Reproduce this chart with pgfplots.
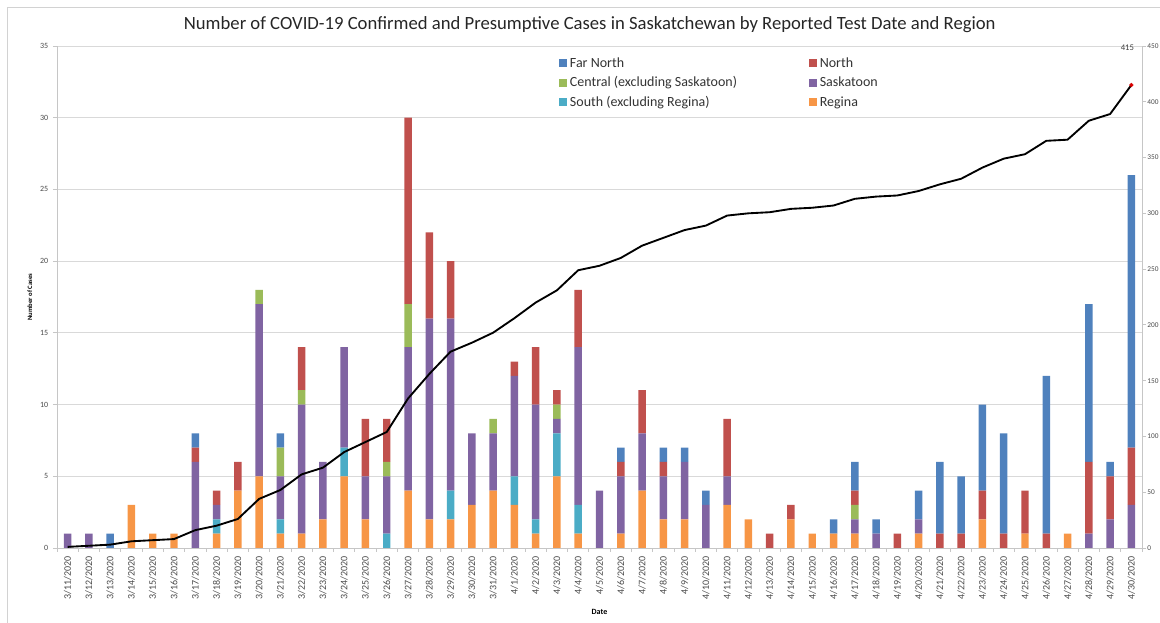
\documentclass[border=0pt]{standalone}
\usepackage{pgfplots}
\pgfplotsset{compat=1.18}
\usepackage{pgfplotstable}
\usepackage{fontspec}
\setmainfont{Carlito}

\definecolor{cFar}{HTML}{4F81BD}
\definecolor{cNor}{HTML}{C0504D}
\definecolor{cCen}{HTML}{9BBB59}
\definecolor{cSas}{HTML}{8064A2}
\definecolor{cSou}{HTML}{4BACC6}
\definecolor{cReg}{HTML}{F79646}
\definecolor{txt}{HTML}{4A4A4A}

\pgfplotstableread{
idx Reg Sou Sas Cen Nor Far Cum
0 0 0 1 0 0 0 1
1 0 0 1 0 0 0 2
2 0 0 0 0 0 1 3
3 3 0 0 0 0 0 6
4 1 0 0 0 0 0 7
5 1 0 0 0 0 0 8
6 0 0 6 0 1 1 16
7 1 1 1 0 1 0 20
8 4 0 0 0 2 0 26
9 5 0 12 1 0 0 44
10 1 1 3 2 0 1 52
11 1 0 9 1 3 0 66
12 2 0 4 0 0 0 72
13 5 2 7 0 0 0 86
14 2 0 3 0 4 0 95
15 0 1 4 1 3 0 104
16 4 0 10 3 13 0 134
17 2 0 14 0 6 0 156
18 2 2 12 0 4 0 176
19 3 0 5 0 0 0 184
20 4 0 4 1 0 0 193
21 3 2 7 0 1 0 206
22 1 1 8 0 4 0 220
23 5 3 1 1 1 0 231
24 1 2 11 0 4 0 249
25 0 0 4 0 0 0 253
26 1 0 4 0 1 1 260
27 4 0 4 0 3 0 271
28 2 0 3 0 1 1 278
29 2 0 4 0 0 1 285
30 0 0 3 0 0 1 289
31 3 0 2 0 4 0 298
32 2 0 0 0 0 0 300
33 0 0 0 0 1 0 301
34 2 0 0 0 1 0 304
35 1 0 0 0 0 0 305
36 1 0 0 0 0 1 307
37 1 0 1 1 1 2 313
38 0 0 1 0 0 1 315
39 0 0 0 0 1 0 316
40 1 0 1 0 0 2 320
41 0 0 0 0 1 5 326
42 0 0 0 0 1 4 331
43 2 0 0 0 2 6 341
44 0 0 0 0 1 7 349
45 1 0 0 0 3 0 353
46 0 0 0 0 1 11 365
47 1 0 0 0 0 0 366
48 0 0 1 0 5 11 383
49 0 0 2 0 3 1 389
50 0 0 3 0 4 19 415
}\datatable

\begin{document}
\begin{tikzpicture}
\useasboundingbox (-42.75pt,-56.25pt) rectangle (827.25pt,411pt);
\draw[gray!35, line width=0.7pt] (-37.5pt,405.75pt) rectangle (845pt,-70pt);
\begin{axis}[
  scale only axis, width=813.75pt, height=376.5pt,
  xmin=-0.5, xmax=50.5, ymin=0, ymax=35,
  ybar stacked, bar width=5.6pt,
  axis x line*=bottom, axis y line*=left,
  axis line style={gray!45, line width=0.6pt},
  ytick={0,5,...,35},
  ymajorgrids, grid style={gray!30, line width=0.6pt},
  xtick={0,...,50},
  xticklabels={3/11/2020,3/12/2020,3/13/2020,3/14/2020,3/15/2020,3/16/2020,3/17/2020,3/18/2020,3/19/2020,3/20/2020,3/21/2020,3/22/2020,3/23/2020,3/24/2020,3/25/2020,3/26/2020,3/27/2020,3/28/2020,3/29/2020,3/30/2020,3/31/2020,4/1/2020,4/2/2020,4/3/2020,4/4/2020,4/5/2020,4/6/2020,4/7/2020,4/8/2020,4/9/2020,4/10/2020,4/11/2020,4/12/2020,4/13/2020,4/14/2020,4/15/2020,4/16/2020,4/17/2020,4/18/2020,4/19/2020,4/20/2020,4/21/2020,4/22/2020,4/23/2020,4/24/2020,4/25/2020,4/26/2020,4/27/2020,4/28/2020,4/29/2020,4/30/2020},
  minor xtick={-0.5,0.5,...,50.5},
  tick align=outside,
  major x tick style={draw=none},
  minor x tick style={gray!45, line width=0.6pt},
  ytick style={gray!45, line width=0.6pt},
  major tick length=3pt, minor tick length=3pt,
  /pgf/number format/assume math mode=true,
  xticklabel style={rotate=90, anchor=east, font=\fontsize{7.5}{8}\selectfont, text=txt},
  yticklabel style={font=\fontsize{6}{7}\selectfont, text=txt},
  ylabel={\textbf{Number of Cases}},
  ylabel style={at={(axis description cs:-0.025,0.5)}, anchor=center, font=\fontsize{5}{6}\selectfont},
  xlabel={\textbf{Date}},
  xlabel style={at={(axis description cs:0.5,-0.127)}, anchor=center, font=\fontsize{6}{7}\selectfont},
  every axis title shift=0pt,
  title={Number of COVID-19 Confirmed and Presumptive Cases in Saskatchewan by Reported Test Date and Region},
  title style={at={(axis description cs:0.491,1.042)}, anchor=center, font=\fontsize{14}{16}\selectfont, text=black!85},
  legend columns=2, reverse legend,
  legend image code/.code={\draw[#1, draw=none] (0pt,-3pt) rectangle (6pt,3pt);},
  legend style={at={(axis description cs:0.459,0.988)}, anchor=north west, draw=none, fill=none,
    font=\fontsize{10.5}{11}\selectfont, text=black!80, row sep=1.5pt,
    /tikz/every even column/.append style={column sep=52pt}},
  legend cell align=left,
]
\addplot[fill=cReg, draw=none] table[x=idx,y=Reg]{\datatable};
\addlegendentry{Regina}
\addplot[fill=cSou, draw=none] table[x=idx,y=Sou]{\datatable};
\addlegendentry{South (excluding Regina)}
\addplot[fill=cSas, draw=none] table[x=idx,y=Sas]{\datatable};
\addlegendentry{Saskatoon}
\addplot[fill=cCen, draw=none] table[x=idx,y=Cen]{\datatable};
\addlegendentry{Central (excluding Saskatoon)}
\addplot[fill=cNor, draw=none] table[x=idx,y=Nor]{\datatable};
\addlegendentry{North}
\addplot[fill=cFar, draw=none] table[x=idx,y=Far]{\datatable};
\addlegendentry{Far North}
\end{axis}
\begin{axis}[
  scale only axis, width=813.75pt, height=376.5pt,
  xmin=-0.5, xmax=50.5, ymin=0, ymax=450,
  axis x line=none, axis y line*=right,
  axis line style={gray!45, line width=0.6pt},
  ytick={0,50,...,450},
  tick align=outside, major tick length=3pt,
  ytick style={gray!45, line width=0.6pt},
  /pgf/number format/assume math mode=true,
  yticklabel style={font=\fontsize{5.5}{6}\selectfont, text=txt, inner xsep=0.8pt},
]
\addplot[black, line width=1.4pt, line join=round] table[x=idx,y=Cum]{\datatable};
\addplot[only marks, mark=*, mark size=1.4pt, color=red!85!black,
  nodes near coords, nodes near coords style={font=\fontsize{6.5}{7}\selectfont, text=black!75, anchor=south, yshift=22pt, xshift=-3pt}]
  coordinates {(50,415)};
\end{axis}
\end{tikzpicture}
\end{document}
